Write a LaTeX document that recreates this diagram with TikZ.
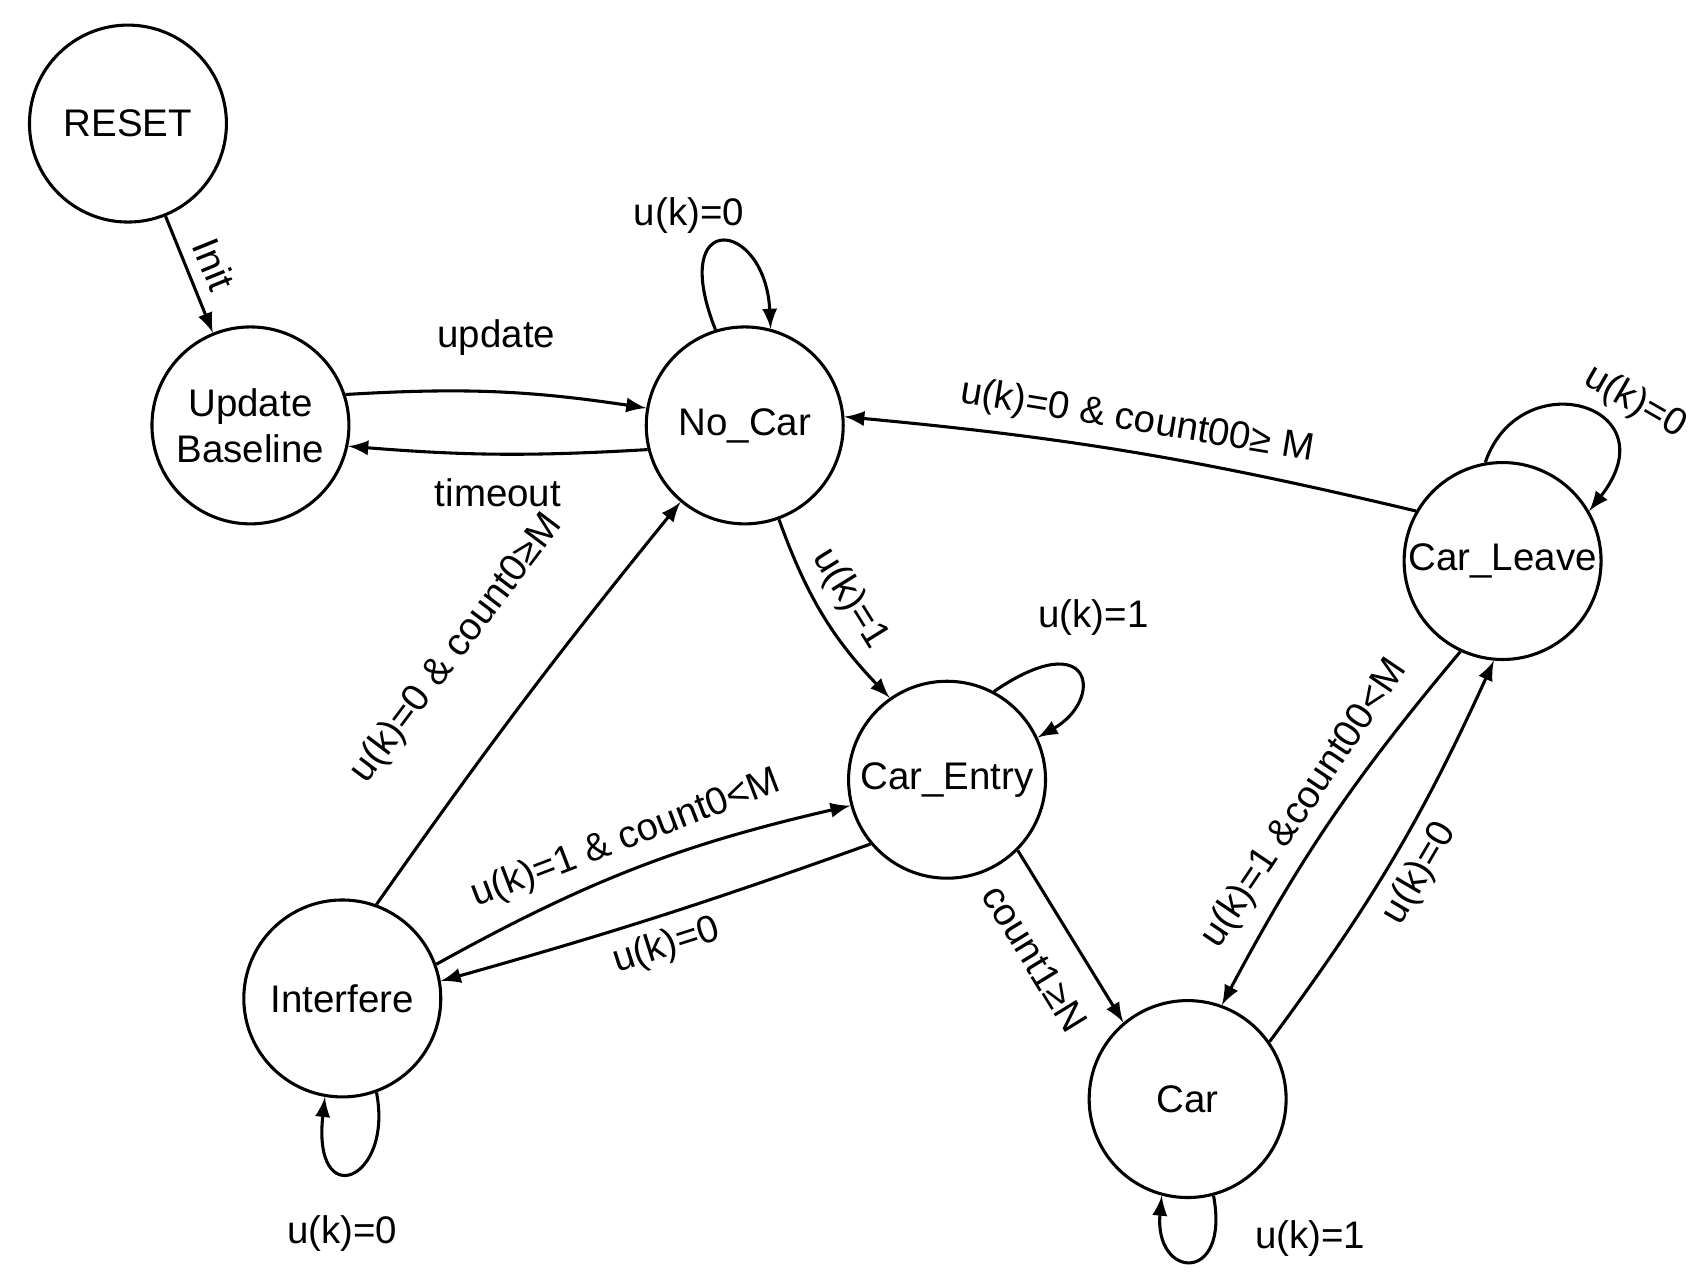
\documentclass[tikz,border=0pt]{standalone}
\usepackage{fontspec}
\setmainfont{Liberation Sans}
\usetikzlibrary{arrows}
\begin{document}
\begin{tikzpicture}[
  x=0.01cm, y=-0.01cm,
  font=\fontsize{10}{12}\selectfont,
  state/.style={circle, draw, thick, minimum size=1.8cm, inner sep=0pt, align=center},
  edge/.style={-latex, thick},
  lbl/.style={midway, inner sep=3pt}
]

\useasboundingbox (0,0) rectangle (1560,1173);

%======================
% STATES
%======================

\node[state] (reset) at (117,113) {RESET};
\node[state] (upd) at (229,389) {Update\\Baseline};
\node[state] (nocar) at (681,389) {No\_Car};
\node[state] (entry) at (866,713) {Car\_Entry};
\node[state] (intf) at (313,913) {Interfere};
\node[state] (car) at (1086,1005) {Car};
\node[state] (leave) at (1374,513) {Car\_Leave};

%======================
% TRANSITIONS
%======================

\draw[edge] (reset) -- node[lbl, above, sloped] {Init} (upd);

\draw[edge] (upd.18) to[bend left=6] node[lbl, above=6pt] {update} (nocar.170);
\draw[edge] (nocar.194) to[bend left=4] node[lbl, below=3pt] {timeout} (upd.-12);

\draw[edge] (leave.150) to[bend right=4] node[lbl, above, sloped] {u(k)=0 \& count00≥ M} (nocar.5);
\draw[edge] (nocar.-70) to[bend right=12] node[lbl, above, sloped] {u(k)=1} (entry.125);

\draw[edge] (intf.70) to[bend left=2] node[lbl, above=14pt, sloped] {u(k)=0 \& count0≥M} (nocar.-130);
\draw[edge] (intf.20) to[bend left=8] node[lbl, above, sloped] {u(k)=1 \& count0<M} (entry.-165);
\draw[edge] (entry.-140) to[bend left=2] node[lbl, below, sloped] {u(k)=0} (intf.10);

\draw[edge] (entry.-45) -- node[lbl, below=4pt, sloped] {count1≥N} (car.130);
\draw[edge] (leave.-115) to[bend right=6] node[lbl, above, sloped] {u(k)=1 \&count00<M} (car.70);
\draw[edge] (car.35) to[bend right=6] node[lbl, below, sloped] {u(k)=0} (leave.-95);

% self loops
\draw[edge] (nocar.107) .. controls (610,190) and (700,200) .. (nocar.75);
\node at (630,197) {u(k)=0};
\draw[edge] (entry.62) .. controls (1000,570) and (1010,640) .. (entry.25);
\node at (1000,565) {u(k)=1};
\draw[edge] (leave.100) .. controls (1390,330) and (1530,370) .. (leave.30);
\node[rotate=-30] at (1495,368) {u(k)=0};
\draw[edge] (intf.-70) .. controls (360,1080) and (285,1110) .. (intf.-100);
\node at (313,1128) {u(k)=0};
\draw[edge] (car.-75) .. controls (1125,1175) and (1055,1170) .. (car.-105);
\node at (1198,1133) {u(k)=1};

\end{tikzpicture}
\end{document}
